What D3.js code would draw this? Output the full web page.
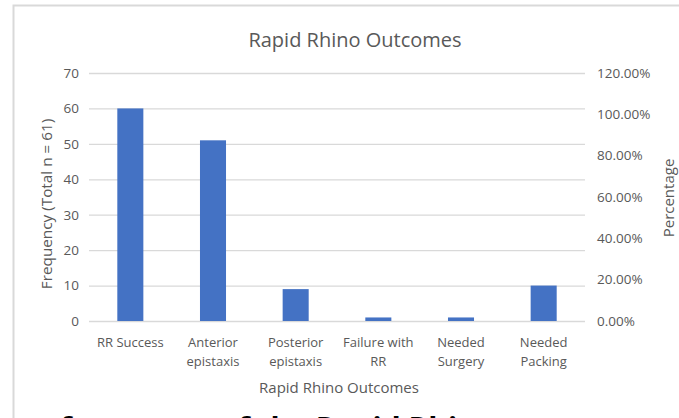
<!DOCTYPE html>
<html>
<head>
<meta charset="utf-8">
<script src="https://cdn.jsdelivr.net/npm/d3@7"></script>
<style>
  body { margin: 0; background: #fff; }
  text { font-family: "Open Sans", sans-serif; }
</style>
</head>
<body>
<script>
var categories = [["RR Success"], ["Anterior", "epistaxis"], ["Posterior", "epistaxis"],
                  ["Failure with", "RR"], ["Needed", "Surgery"], ["Needed", "Packing"]];
var counts = [60, 51, 9, 1, 1, 10];
var leftTicks = [0, 10, 20, 30, 40, 50, 60, 70];
var rightTicks = [0, 0.2, 0.4, 0.6, 0.8, 1.0, 1.2];

var width = 679, height = 418;
var top_ = 73, bottom = 321, left = 89, right = 585;

var svg = d3.select("body").append("svg")
    .attr("width", width).attr("height", height);

// chart frame
svg.append("rect")
    .attr("x", 13.5).attr("y", 5.5)
    .attr("width", 700).attr("height", 430)
    .attr("fill", "#fff").attr("stroke", "#d9d9d9").attr("stroke-width", 2);

var x = d3.scaleBand().domain(d3.range(categories.length))
    .range([left, right]).paddingInner(0.685).paddingOuter(0.3425);
var y = d3.scaleLinear().domain([0, 70]).range([bottom, top_]);
var y2 = d3.scaleLinear().domain([0, 1.2]).range([bottom, top_]);

// grid
svg.append("g").selectAll("line").data(leftTicks).enter().append("line")
    .attr("x1", left).attr("x2", right)
    .attr("y1", function(d){ return y(d) + 0.5; })
    .attr("y2", function(d){ return y(d) + 0.5; })
    .attr("stroke", "#d9d9d9").attr("stroke-width", 1.3);

// bars
svg.append("g").selectAll("rect").data(counts).enter().append("rect")
    .attr("x", function(d, i){ return x(i); })
    .attr("y", function(d){ return y(d); })
    .attr("width", x.bandwidth())
    .attr("height", function(d){ return bottom - y(d); })
    .attr("fill", "#4472c4");

// left axis
var gl = svg.append("g").attr("transform", "translate(" + (left - 10) + ",0)")
    .call(d3.axisLeft(y).tickValues(leftTicks).tickSize(0).tickPadding(0));
gl.select(".domain").remove();
gl.selectAll("text").attr("font-size", 13.5).attr("fill", "#595959")
    .attr("font-family", "Open Sans");

// right axis
var gr = svg.append("g").attr("transform", "translate(" + (right + 12) + ",0)")
    .call(d3.axisRight(y2).tickValues(rightTicks).tickSize(0).tickPadding(0)
        .tickFormat(function(d){ return (d * 100).toFixed(2) + "%"; }));
gr.select(".domain").remove();
gr.selectAll("text").attr("font-size", 13.5).attr("fill", "#595959")
    .attr("font-family", "Open Sans");

// category labels
var xl = svg.append("g");
categories.forEach(function(lines, i){
    var t = xl.append("text")
        .attr("x", x(i) + x.bandwidth() / 2).attr("y", 347)
        .attr("text-anchor", "middle").attr("font-size", 13).attr("fill", "#595959");
    lines.forEach(function(l, j){
        t.append("tspan").attr("x", x(i) + x.bandwidth() / 2)
            .attr("dy", j == 0 ? 0 : 19).text(l);
    });
});

// titles
svg.append("text").attr("x", 355).attr("y", 47).attr("text-anchor", "middle")
    .attr("font-size", 20).attr("fill", "#595959").text("Rapid Rhino Outcomes");
svg.append("text").attr("x", 339).attr("y", 393).attr("text-anchor", "middle")
    .attr("font-size", 15).attr("fill", "#595959").text("Rapid Rhino Outcomes");
svg.append("text").attr("transform", "translate(52,204) rotate(-90)")
    .attr("text-anchor", "middle").attr("font-size", 15.3).attr("fill", "#595959")
    .text("Frequency (Total n = 61)");
svg.append("text").attr("transform", "translate(674,198) rotate(-90)")
    .attr("text-anchor", "middle").attr("font-size", 15).attr("fill", "#595959")
    .text("Percentage");

// caption below the chart, only its top shows in the picture
svg.append("text").attr("x", 60).attr("y", 439)
    .attr("font-size", 30).attr("font-weight", "bold").attr("fill", "#000")
    .text("frequency of the Rapid Rhino outcomes");
</script>
</body>
</html>
